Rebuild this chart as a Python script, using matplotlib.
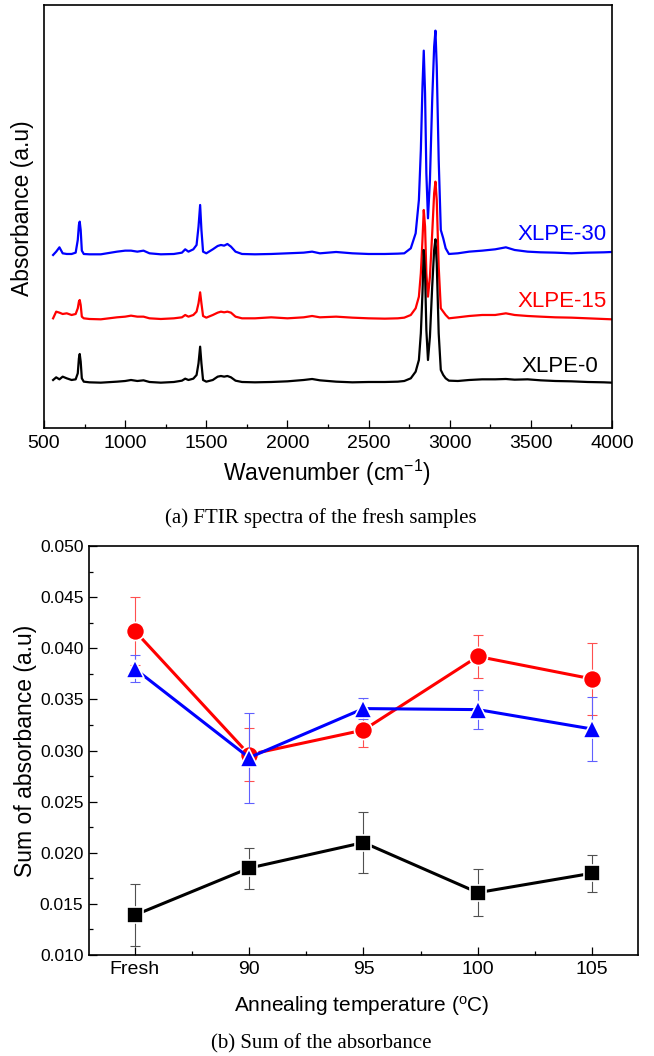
import numpy as np
import matplotlib
matplotlib.use('Agg')
import matplotlib.pyplot as plt
from matplotlib.ticker import MultipleLocator, FixedLocator

plt.rcParams['font.family'] = ['Liberation Sans', 'DejaVu Sans']
plt.rcParams['mathtext.fontset'] = 'custom'
plt.rcParams['mathtext.rm'] = 'Liberation Sans'
plt.rcParams['mathtext.it'] = 'Liberation Sans:italic'

# (a) FTIR spectra (absorbance in a.u., curves offset)
wavenumber = [556, 575, 595, 615, 640, 670, 695, 708, 715, 720, 726, 733, 745, 780, 850,
              950, 1000, 1036, 1075, 1113, 1150, 1220, 1300, 1350, 1370, 1390, 1420, 1440,
              1452, 1462, 1470, 1480, 1500, 1540, 1570, 1590, 1610, 1630, 1652, 1680, 1720,
              1800, 1900, 2000, 2100, 2152, 2200, 2300, 2400, 2500, 2600, 2680,
              2720, 2760, 2790, 2810, 2822, 2832, 2840, 2848, 2856, 2866, 2878, 2892, 2904,
              2912, 2920, 2932, 2945, 2960, 2975, 2995,
              3050, 3120, 3200, 3280, 3346, 3400, 3480, 3560, 3650, 3750, 3850, 3950, 4000]

xlpe0_abs = [144, 152, 146, 154, 149, 144, 146, 164, 209, 222, 199, 149, 139, 137, 136,
             139, 141, 144, 141, 143, 138, 136, 138, 142, 148, 144, 148, 159,
             194, 244, 194, 144, 139, 144, 154, 156, 154, 156, 152, 142, 138,
             137, 138, 140, 144, 147, 143, 139, 137, 138, 138, 139,
             141, 149, 169, 204, 284, 404, 534, 464, 294, 204, 274, 424, 534,
             566, 494, 284, 174, 159, 149, 142,
             141, 144, 146, 146, 147, 145, 146, 143, 141, 140, 138, 137, 136]

xlpe15_abs = [329, 349, 346, 342, 344, 339, 342, 359, 379, 384, 369, 334, 329, 327, 326,
              332, 334, 337, 334, 334, 329, 327, 329, 332, 339, 334, 339, 349,
              374, 407, 374, 336, 331, 339, 346, 349, 347, 349, 346, 334, 329,
              329, 332, 329, 332, 336, 332, 334, 331, 329, 328, 329,
              331, 339, 359, 394, 464, 564, 654, 604, 464, 394, 454, 584, 704,
              739, 684, 484, 359, 349, 339, 329,
              332, 336, 339, 339, 344, 339, 336, 334, 332, 331, 329, 327, 326]

xlpe30_abs = [519, 529, 542, 524, 522, 522, 526, 564, 609, 619, 594, 532, 522, 521, 521,
              529, 532, 532, 529, 532, 524, 521, 522, 526, 536, 529, 536, 549,
              604, 669, 594, 529, 524, 536, 546, 549, 547, 552, 544, 529, 522,
              521, 522, 524, 526, 529, 524, 528, 524, 522, 522, 523,
              524, 539, 584, 684, 834, 1024, 1132, 1004, 764, 629, 744, 984, 1144,
              1192, 1084, 804, 594, 569, 539, 522,
              524, 529, 532, 536, 542, 534, 529, 527, 526, 524, 526, 527, 528]

# (b) sum of absorbance vs annealing temperature
temps = ['Fresh', '90', '95', '100', '105']
xlpe0_sum = [0.0139, 0.0185, 0.0210, 0.0161, 0.0180]
xlpe0_err = [0.0030, 0.0020, 0.0030, 0.0023, 0.0018]
xlpe15_sum = [0.0417, 0.0296, 0.0320, 0.0392, 0.0370]
xlpe15_err = [0.0033, 0.0026, 0.0017, 0.0021, 0.0035]
xlpe30_sum = [0.0380, 0.0293, 0.0341, 0.0340, 0.0321]
xlpe30_err = [0.0013, 0.0044, 0.0010, 0.0019, 0.0031]

fig = plt.figure(figsize=(6.54, 10.56), dpi=100)

# ---------- top panel ----------
ax1 = fig.add_axes([0.0673, 0.5947, 0.8685, 0.4006])
ax1.plot(wavenumber, xlpe30_abs, color='#0000ff', lw=1.6)
ax1.plot(wavenumber, xlpe15_abs, color='#ff0000', lw=1.6)
ax1.plot(wavenumber, xlpe0_abs, color='black', lw=1.6)
ax1.set_xlim(500, 4000)
ax1.set_ylim(0, 1269)
ax1.set_yticks([])
ax1.xaxis.set_major_locator(MultipleLocator(500))
ax1.xaxis.set_minor_locator(MultipleLocator(250))
ax1.tick_params(axis='x', which='major', direction='in', length=5.5, width=0.9,
                labelsize=14, pad=5)
ax1.tick_params(axis='x', which='minor', direction='in', length=2.8, width=0.9)
for s in ax1.spines.values():
    s.set_linewidth(1.2)

ax1.text(3692, 579, 'XLPE-30', color='#0000ff', fontsize=16, ha='center', va='center')
ax1.text(3692, 380, 'XLPE-15', color='#ff0000', fontsize=16, ha='center', va='center')
ax1.text(3679, 184, 'XLPE-0', color='black', fontsize=16, ha='center', va='center')

ax1.set_xlabel('Wavenumber (cm$^{-1}$)', fontsize=16.5, va='center')
ax1.xaxis.set_label_coords(0.498, -0.105)
ax1.set_ylabel('Absorbance (a.u)', fontsize=16.5, va='center')
ax1.yaxis.set_label_coords(-0.037, 0.52)

fig.text(0.491, 0.5095, '(a) FTIR spectra of the fresh samples', fontsize=15,
         family=['Liberation Serif', 'DejaVu Serif'], ha='center', va='center')

# ---------- bottom panel ----------
ax2 = fig.add_axes([0.1361, 0.09564, 0.8394, 0.3873])
x = np.arange(len(temps))

ax2.errorbar(x, xlpe0_sum, yerr=xlpe0_err, fmt='none', ecolor='#505050', elinewidth=0.8,
             capsize=3.6, capthick=0.8, zorder=2)
ax2.plot(x, xlpe0_sum, color='black', lw=2.2, marker='s', ms=11, mfc='black',
         mec='white', mew=1.2, zorder=3)

ax2.errorbar(x, xlpe15_sum, yerr=xlpe15_err, fmt='none', ecolor='#ff5050', elinewidth=0.8,
             capsize=3.6, capthick=0.8, zorder=4)
ax2.plot(x, xlpe15_sum, color='#ff0000', lw=2.2, marker='o', ms=13, mfc='#ff0000',
         mec='white', mew=1.2, zorder=5)

ax2.errorbar(x, xlpe30_sum, yerr=xlpe30_err, fmt='none', ecolor='#6060ff', elinewidth=0.8,
             capsize=3.6, capthick=0.8, zorder=6)
ax2.plot(x, xlpe30_sum, color='#0000ff', lw=2.2, marker='^', ms=13, mfc='#0000ff',
         mec='white', mew=1.2, zorder=7)

ax2.set_xlim(-0.4, 4.4)
ax2.set_ylim(0.010, 0.050)
ax2.set_xticks(x)
ax2.set_xticklabels(temps)
ax2.xaxis.set_minor_locator(FixedLocator(x[:-1] + 0.5))
ax2.yaxis.set_major_locator(MultipleLocator(0.005))
ax2.yaxis.set_minor_locator(MultipleLocator(0.0025))
ax2.yaxis.set_major_formatter(plt.FormatStrFormatter('%.3f'))
ax2.tick_params(axis='x', which='major', direction='in', length=6, width=0.9,
                labelsize=14, pad=4)
ax2.tick_params(axis='y', which='major', direction='in', length=6, width=0.9,
                labelsize=12.5, pad=4)
ax2.tick_params(which='minor', direction='in', length=3, width=0.9)
for s in ax2.spines.values():
    s.set_linewidth(1.2)

ax2.set_xlabel('Annealing temperature ($^{\\mathregular{o}}$C)', fontsize=15, va='center')
ax2.xaxis.set_label_coords(0.497, -0.125)
ax2.set_ylabel('Sum of absorbance (a.u)', fontsize=16.5, va='center')
ax2.yaxis.set_label_coords(-0.116, 0.5)

fig.text(0.491, 0.0114, '(b) Sum of the absorbance', fontsize=15,
         family=['Liberation Serif', 'DejaVu Serif'], ha='center', va='center')

fig.savefig('out.png', dpi=100)
